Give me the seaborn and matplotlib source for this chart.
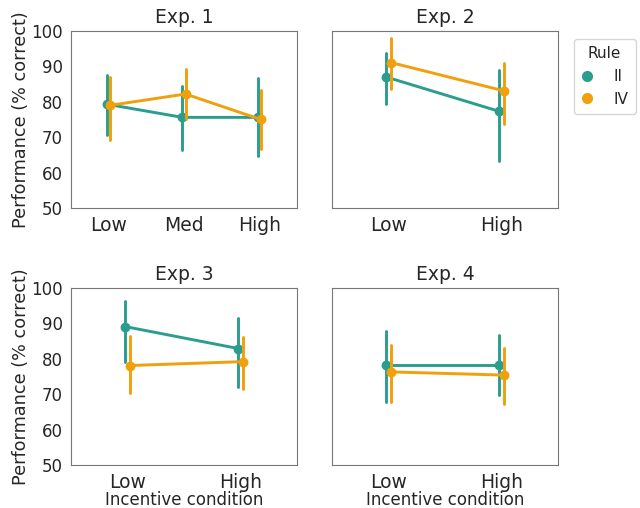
import numpy as np
import pandas as pd
import matplotlib
matplotlib.use("Agg")
import matplotlib.pyplot as plt
from matplotlib.lines import Line2D
import seaborn as sns

sns.set_style("white")
plt.rcParams['font.family'] = ['DejaVu Sans']

rules = ["II", "IV"]
palette = {"II": "#2a9d8f", "IV": "#efa00b"}

exp_titles = ["Exp. 1", "Exp. 2", "Exp. 3", "Exp. 4"]
exp_conditions = [["Low", "Med", "High"], ["Low", "High"], ["Low", "High"], ["Low", "High"]]

# means
ii_mean = [[79.3, 75.6, 75.6], [87.0, 77.3], [89.1, 82.9], [78.2, 78.2]]
iv_mean = [[79.0, 82.2, 75.0], [91.1, 83.1], [78.1, 79.2], [76.3, 75.4]]
# error bar lower bounds
ii_lo = [[70.5, 66.3, 64.7], [79.4, 63.3], [79.0, 71.9], [67.8, 69.8]]
iv_lo = [[69.3, 75.0, 66.6], [83.6, 73.8], [70.4, 71.5], [67.8, 67.3]]
# error bar upper bounds
ii_hi = [[87.6, 84.5, 86.6], [93.8, 89.0], [96.4, 91.5], [87.8, 86.6]]
iv_hi = [[87.1, 89.2, 83.3], [97.9, 91.0], [86.3, 86.2], [83.8, 83.0]]


def make_df(i):
    rows = []
    for j, cond in enumerate(exp_conditions[i]):
        for rule, m, lo, hi in (("II", ii_mean, ii_lo, ii_hi), ("IV", iv_mean, iv_lo, iv_hi)):
            for v in (lo[i][j], m[i][j], hi[i][j]):
                rows.append({"Incentive condition": cond, "Rule": rule, "score": v})
    return pd.DataFrame(rows)


fig = plt.figure(figsize=(6.4, 5.08), dpi=100)
W, H = 640, 508
boxes = [(71, 31, 297, 208), (332, 31, 558, 208), (71, 288, 297, 465), (332, 288, 558, 465)]
axes = []
for (x0, y0, x1, y1) in boxes:
    axes.append(fig.add_axes([x0 / W, 1 - y1 / H, (x1 - x0) / W, (y1 - y0) / H]))

for i, ax in enumerate(axes):
    df = make_df(i)
    sns.pointplot(data=df, x="Incentive condition", y="score", hue="Rule",
                  hue_order=rules, order=exp_conditions[i], palette=palette,
                  estimator="median", errorbar=("pi", 100), dodge=0.04,
                  linewidth=2.1, markersize=5.5,
                  legend=False, ax=ax)
    ax.set_ylim(50, 100)
    ax.set_yticks([50, 60, 70, 80, 90, 100])
    ax.set_title(exp_titles[i], fontsize=13.5)
    ax.tick_params(axis="x", labelsize=13.5, length=4, pad=1.5, color="#666666")
    ax.tick_params(axis="y", labelsize=12, length=3.5, pad=2.5, color="#666666")
    for s in ax.spines.values():
        s.set_color("#777777")
    if i % 2 == 0:
        ax.set_ylabel("Performance (% correct)", fontsize=12.7, labelpad=1)
    else:
        ax.set_ylabel("")
        ax.set_yticklabels([])
    if i >= 2:
        ax.set_xlabel("Incentive condition", fontsize=12, labelpad=-0.5)
    else:
        ax.set_xlabel("")

handles = [Line2D([], [], linestyle="none", marker="o", markersize=7,
                  color=palette[r], label=r) for r in rules]
leg = axes[1].legend(handles=handles, title="Rule", loc="upper left",
                     bbox_to_anchor=(1.035, 1.0), fontsize=11, title_fontsize=11,
                     frameon=True, handletextpad=1.3, handlelength=0.8,
                     labelspacing=0.5, borderpad=0.5, borderaxespad=0.5)

fig.savefig("out.png", dpi=100)
